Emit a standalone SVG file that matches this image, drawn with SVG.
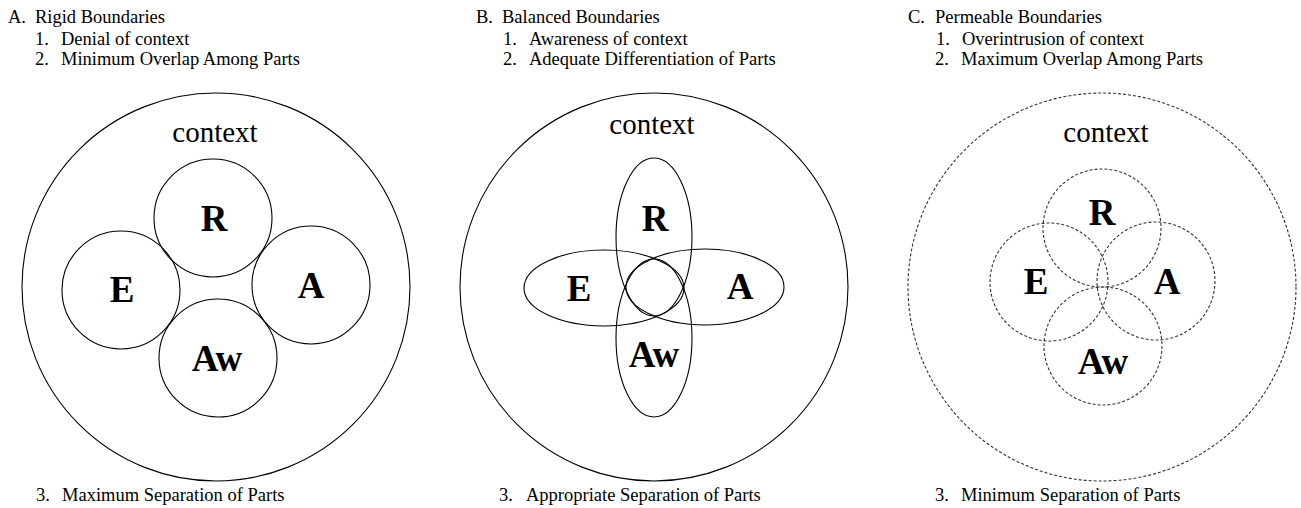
<svg xmlns="http://www.w3.org/2000/svg" width="1301" height="508" viewBox="0 0 1301 508">
<style>
.t{font-family:"Liberation Serif","Times New Roman",serif;font-size:18.5px;fill:#000}
.ctx{font-family:"Liberation Serif","Times New Roman",serif;font-size:29px;fill:#000;text-anchor:middle}
.lbl{font-family:"Liberation Serif","Times New Roman",serif;font-size:37px;font-weight:bold;fill:#000;text-anchor:middle}
.s{fill:none;stroke:#000;stroke-width:1.1}
.d{fill:none;stroke:#333;stroke-width:1.1;stroke-dasharray:3 2}
</style>
<rect width="1301" height="508" fill="#fff"/>
<g id="captions">
<text class="t" x="8" y="23">A.</text><text class="t" x="35" y="23">Rigid Boundaries</text>
<text class="t" x="35" y="45">1.</text><text class="t" x="61" y="45">Denial of context</text>
<text class="t" x="35" y="65">2.</text><text class="t" x="61" y="65">Minimum Overlap Among Parts</text>
<text class="t" x="36" y="501">3.</text><text class="t" x="62" y="501">Maximum Separation of Parts</text>
<text class="t" x="476" y="23">B.</text><text class="t" x="502" y="23">Balanced Boundaries</text>
<text class="t" x="503" y="45">1.</text><text class="t" x="529" y="45">Awareness of context</text>
<text class="t" x="503" y="65">2.</text><text class="t" x="529" y="65">Adequate Differentiation of Parts</text>
<text class="t" x="499" y="501">3.</text><text class="t" x="526" y="501">Appropriate Separation of Parts</text>
<text class="t" x="908" y="23">C.</text><text class="t" x="935" y="23">Permeable Boundaries</text>
<text class="t" x="936" y="45">1.</text><text class="t" x="962" y="45">Overintrusion of context</text>
<text class="t" x="935" y="65">2.</text><text class="t" x="961" y="65">Maximum Overlap Among Parts</text>
<text class="t" x="935" y="501">3.</text><text class="t" x="961" y="501">Minimum Separation of Parts</text>
</g>
<g id="panelA">
<g id="A-context"><circle class="s" cx="216" cy="287" r="194"/><text class="ctx" x="215" y="142">context</text></g>
<g id="A-R"><circle class="s" cx="213" cy="218" r="59"/><text class="lbl" x="214" y="231">R</text></g>
<g id="A-E"><circle class="s" cx="121" cy="290" r="59"/><text class="lbl" x="122" y="302">E</text></g>
<g id="A-A"><circle class="s" cx="311" cy="285" r="59"/><text class="lbl" x="311" y="298">A</text></g>
<g id="A-Aw"><circle class="s" cx="218" cy="358" r="59"/><text class="lbl" x="217" y="371">Aw</text></g>
</g>
<g id="panelB">
<g id="B-context"><circle class="s" cx="654" cy="287" r="194"/><text class="ctx" x="652" y="134">context</text></g>
<g id="B-R"><ellipse class="s" cx="654" cy="237" rx="38" ry="79"/><text class="lbl" x="655" y="231">R</text></g>
<g id="B-E"><ellipse class="s" cx="604" cy="288" rx="80" ry="38"/><text class="lbl" x="579" y="301">E</text></g>
<g id="B-A"><ellipse class="s" cx="705" cy="287" rx="79" ry="38"/><text class="lbl" x="740" y="299">A</text></g>
<g id="B-Aw"><ellipse class="s" cx="654" cy="338" rx="38" ry="79"/><text class="lbl" x="654" y="367">Aw</text></g>
</g>
<g id="panelC">
<g id="C-context"><circle class="d" cx="1102" cy="287" r="194"/><text class="ctx" x="1106" y="142">context</text></g>
<g id="C-R"><circle class="d" cx="1102" cy="228" r="59"/><text class="lbl" x="1102" y="225">R</text></g>
<g id="C-E"><circle class="d" cx="1049" cy="282" r="59"/><text class="lbl" x="1036" y="294">E</text></g>
<g id="C-A"><circle class="d" cx="1156" cy="281" r="59"/><text class="lbl" x="1167" y="294">A</text></g>
<g id="C-Aw"><circle class="d" cx="1103" cy="346" r="59"/><text class="lbl" x="1103" y="374">Aw</text></g>
</g>
<g id="connectors"/>
</svg>
